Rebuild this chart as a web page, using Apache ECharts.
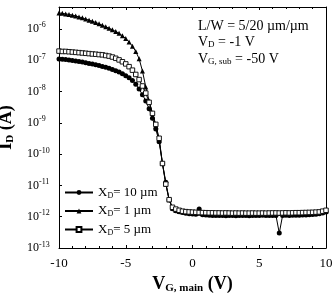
<!DOCTYPE html>
<html><head><meta charset="utf-8">
<script src="https://cdn.jsdelivr.net/npm/echarts@6/dist/echarts.min.js"></script>
<style>html,body{margin:0;padding:0;background:#fff}#c{width:336px;height:293px}</style>
</head><body><div id="c"></div>
<script>
var vg = [-10,-9.75,-9.5,-9.25,-9,-8.75,-8.5,-8.25,-8,-7.75,-7.5,-7.25,-7,-6.75,-6.5,-6.25,-6,-5.75,-5.5,-5.25,-5,-4.75,-4.5,-4.25,-4,-3.75,-3.5,-3.25,-3,-2.75,-2.5,-2.25,-2,-1.75,-1.5,-1.25,-1,-0.75,-0.5,-0.25,0,0.25,0.5,0.75,1,1.25,1.5,1.75,2,2.25,2.5,2.75,3,3.25,3.5,3.75,4,4.25,4.5,4.75,5,5.25,5.5,5.75,6,6.25,6.5,6.75,7,7.25,7.5,7.75,8,8.25,8.5,8.75,9,9.25,9.5,9.75,10];

var idXd10 = [1.1e-7,1.07e-7,1.05e-7,1.02e-7,9.8e-8,9.5e-8,9.1e-8,8.7e-8,8.3e-8,7.9e-8,
  7.6e-8,7.1e-8,6.8e-8,6.3e-8,5.9e-8,5.5e-8,5.0e-8,4.6e-8,4.2e-8,3.7e-8,
  3.2e-8,2.75e-8,2.25e-8,1.7e-8,1.2e-8,7.9e-9,5.0e-9,2.8e-9,1.4e-9,6.3e-10,
  2.5e-10,5.0e-11,1.26e-11,3.5e-12,1.8e-12,
  1.55e-12,1.45e-12,1.35e-12,1.3e-12,1.25e-12,1.22e-12,1.2e-12,1.75e-12,1.15e-12,1.13e-12,
  1.12e-12,1.1e-12,1.1e-12,1.09e-12,1.1e-12,1.08e-12,1.1e-12,1.09e-12,1.08e-12,1.1e-12,
  1.09e-12,1.1e-12,1.08e-12,1.1e-12,1.09e-12,1.1e-12,1.11e-12,1.1e-12,1.09e-12,1.1e-12,
  1.1e-12,3.0e-13,1.1e-12,1.11e-12,1.1e-12,1.12e-12,1.11e-12,1.12e-12,1.13e-12,1.14e-12,
  1.15e-12,1.17e-12,1.2e-12,1.25e-12,1.32e-12,1.4e-12];

var idXd1 = [3.2e-6,3.15e-6,3.0e-6,2.9e-6,2.75e-6,2.6e-6,2.4e-6,2.25e-6,2.05e-6,1.9e-6,
  1.75e-6,1.6e-6,1.45e-6,1.3e-6,1.17e-6,1.05e-6,9.3e-7,8.3e-7,7.2e-7,6.0e-7,
  4.9e-7,3.8e-7,2.8e-7,1.9e-7,1.12e-7,4.5e-8,1.4e-8,5.0e-9,2.0e-9,7.9e-10,
  2.8e-10,5.0e-11,1.1e-11,3.5e-12,1.9e-12,
  1.6e-12,1.5e-12,1.45e-12,1.4e-12,1.38e-12,1.35e-12,1.33e-12,1.3e-12,1.3e-12,1.28e-12,
  1.28e-12,1.27e-12,1.27e-12,1.26e-12,1.25e-12,1.26e-12,1.25e-12,1.25e-12,1.24e-12,1.25e-12,
  1.26e-12,1.25e-12,1.24e-12,1.25e-12,1.26e-12,1.25e-12,1.27e-12,1.26e-12,1.25e-12,1.27e-12,
  1.28e-12,1.27e-12,1.28e-12,1.3e-12,1.29e-12,1.3e-12,1.3e-12,1.31e-12,1.32e-12,1.33e-12,
  1.34e-12,1.35e-12,1.37e-12,1.4e-12,1.45e-12,1.5e-12];

var idXd5 = [1.95e-7,1.9e-7,1.9e-7,1.86e-7,1.82e-7,1.78e-7,1.74e-7,1.7e-7,1.66e-7,1.62e-7,
  1.58e-7,1.55e-7,1.51e-7,1.48e-7,1.41e-7,1.35e-7,1.26e-7,1.15e-7,1.02e-7,8.9e-8,
  7.6e-8,6.2e-8,4.8e-8,3.5e-8,2.4e-8,1.5e-8,8.9e-9,4.5e-9,2.0e-9,8.9e-10,
  3.2e-10,5.0e-11,1.1e-11,3.5e-12,2.0e-12,
  1.75e-12,1.6e-12,1.5e-12,1.45e-12,1.42e-12,1.4e-12,1.38e-12,1.36e-12,1.35e-12,1.34e-12,
  1.33e-12,1.33e-12,1.32e-12,1.32e-12,1.31e-12,1.32e-12,1.31e-12,1.3e-12,1.31e-12,1.3e-12,
  1.31e-12,1.3e-12,1.3e-12,1.31e-12,1.3e-12,1.3e-12,1.31e-12,1.3e-12,1.31e-12,1.32e-12,
  1.32e-12,1.31e-12,1.32e-12,1.33e-12,1.32e-12,1.33e-12,1.34e-12,1.34e-12,1.35e-12,1.36e-12,
  1.37e-12,1.38e-12,1.4e-12,1.42e-12,1.5e-12,1.6e-12];

var seriesNames = ['X_{D}= 10 µm', 'X_{D}= 1 µm', 'X_{D}= 5 µm'];
var xTicks = [-10, -5, 0, 5, 10];
var yRange = [1e-13, 5e-6];
var annotation = ['L/W = 5/20 µm/µm', 'V_{D} = -1 V', 'V_{G, sub} = -50 V'];

var F = 'Liberation Serif';
function pairs(ys){ return vg.map(function(x,i){ return [x, ys[i]]; }); }
function sub(s){ // "A_{B} rest" -> rich text
  return s.split(/(_\{[^}]*\})/).filter(function(p){ return p.length; }).map(function(p){
    return p.charAt(0) === '_' ? '{d|' + p.slice(2, -1) + '}' : '{a|' + p + '}';
  }).join('');
}

var chart = echarts.init(document.getElementById('c'), null, {renderer: 'canvas'});
var base = {type: 'line', symbolSize: 5, lineStyle: {color: '#000', width: 1}, itemStyle: {color: '#000'}, animation: false};
chart.setOption({
  backgroundColor: '#fff',
  animation: false,
  grid: {left: 59, right: 10, top: 7, bottom: 45, containLabel: false, outerBoundsMode: 'none'},
  xAxis: [{
    type: 'value', min: xTicks[0], max: xTicks[xTicks.length-1], interval: 5,
    axisLine: {onZero: false, lineStyle: {color: '#000', width: 1}},
    axisTick: {inside: true, length: 3, lineStyle: {color: '#000'}},
    minorTick: {show: true, splitNumber: 5, length: 2, lineStyle: {color: '#000'}},
    splitLine: {show: false},
    axisLabel: {color: '#000', fontFamily: F, fontSize: 13, margin: 9},
    name: '{v|V}{s|G, main}{v| (V)}', nameLocation: 'middle', nameGap: 25,
    nameTextStyle: {rich: {
      v: {fontFamily: F, fontSize: 18, fontWeight: 'bold', color: '#000'},
      s: {fontFamily: F, fontSize: 11, fontWeight: 'bold', color: '#000', padding: [8,0,0,0]}
    }}
  }, {
    type: 'value', position: 'top', min: xTicks[0], max: xTicks[xTicks.length-1], interval: 5,
    axisLine: {onZero: false, lineStyle: {color: '#000', width: 1}},
    axisTick: {inside: true, length: 3, lineStyle: {color: '#000'}},
    minorTick: {show: true, splitNumber: 5, length: 2, lineStyle: {color: '#000'}},
    axisLabel: {show: false}, splitLine: {show: false}
  }],
  yAxis: [{
    type: 'log', logBase: 10, min: yRange[0], max: yRange[1],
    axisLine: {show: true, onZero: false, lineStyle: {color: '#000', width: 1}},
    axisTick: {inside: true, length: 3, lineStyle: {color: '#000'}},
    splitLine: {show: false},
    axisLabel: {
      color: '#000', align: 'left', margin: 32, showMaxLabel: false,
      formatter: function(v){
        var e = Math.round(Math.log10(v));
        if (Math.abs(v / Math.pow(10, e) - 1) > 1e-6) return '';
        return '{b|10}{s|' + e + '}';
      },
      rich: {
        b: {fontFamily: F, fontSize: 12, color: '#000'},
        s: {fontFamily: F, fontSize: 8, color: '#000', padding: [0,0,7,0]}
      }
    },
    name: '{v|I}{s|D}{v| (A)}', nameLocation: 'middle', nameGap: 34, nameRotate: 90,
    nameTextStyle: {rich: {
      v: {fontFamily: F, fontSize: 18, fontWeight: 'bold', color: '#000'},
      s: {fontFamily: F, fontSize: 11, fontWeight: 'bold', color: '#000', padding: [8,0,0,0]}
    }}
  }, {
    type: 'log', logBase: 10, min: yRange[0], max: yRange[1], position: 'right',
    axisLine: {show: true, onZero: false, lineStyle: {color: '#000', width: 1}},
    axisTick: {show: false}, axisLabel: {show: false}, splitLine: {show: false}
  }],
  legend: {
    left: 64, top: 186, orient: 'vertical', itemWidth: 28, itemHeight: 6, itemGap: 5,
    padding: 0,
    data: seriesNames,
    formatter: function(n){ return sub(n); },
    textStyle: {rich: {
      a: {fontFamily: F, fontSize: 13, color: '#000'},
      d: {fontFamily: F, fontSize: 8, color: '#000', padding: [6,0,0,0]}
    }}
  },
  graphic: annotation.map(function(t, i){
    return {type: 'text', left: 198, top: [19, 35, 52][i], silent: true,
      style: {text: sub(t), rich: {
        a: {fontFamily: F, fontSize: 14, fill: '#000'},
        d: {fontFamily: F, fontSize: 9, fill: '#000', padding: [6,0,0,0]}
      }}};
  }),
  series: [
    Object.assign({}, base, {name: seriesNames[0], symbol: 'circle', data: pairs(idXd10), z: 3}),
    Object.assign({}, base, {name: seriesNames[1], symbol: 'triangle', data: pairs(idXd1), z: 4}),
    Object.assign({}, base, {name: seriesNames[2], symbol: 'rect', symbolSize: 4.5, data: pairs(idXd5), z: 5,
      itemStyle: {color: '#fff', borderColor: '#000', borderWidth: 0.9}})
  ]
});
</script></body></html>
